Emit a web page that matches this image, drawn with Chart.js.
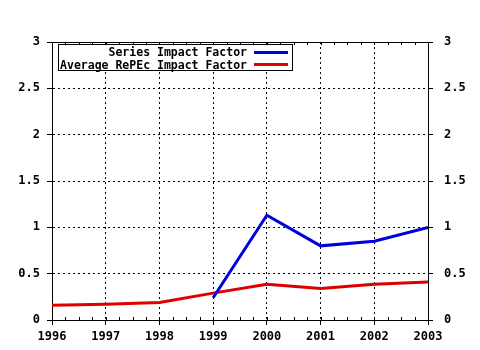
<!DOCTYPE html>
<html>
<head>
<meta charset="utf-8">
<script src="https://cdn.jsdelivr.net/npm/chart.js@4/dist/chart.umd.min.js"></script>
<style>
  body { margin: 0; background: #fff; }
  #wrap { position: relative; width: 480px; height: 350px; }
  #legend {
    position: absolute; left: 58px; top: 44px; width: 233px; height: 25px;
    border: 1px solid #000; background: #fff;
    font: bold 11.5px "DejaVu Sans Mono", monospace; color: #000;
  }
  .legend-item { display: flex; justify-content: flex-end; align-items: center; height: 12.5px; padding-right: 4px; white-space: nowrap; }
  .legend-item:first-child { margin-top: 1px; }
  .legend-color { width: 34px; height: 3px; margin-left: 7px; flex: none; }
</style>
</head>
<body>
<div id="wrap">
  <canvas id="chart" width="480" height="350"></canvas>
  <div id="legend"></div>
</div>
<script>
// Data
const years = [1996, 1997, 1998, 1999, 2000, 2001, 2002, 2003];
const seriesImpact = [null, null, null, 0.24, 1.13, 0.80, 0.85, 1.00];
const averageImpact = [0.16, 0.17, 0.19, 0.29, 0.385, 0.34, 0.385, 0.41];
const seriesLabels = ['Series Impact Factor', 'Average RePEc Impact Factor'];
const seriesColors = ['#0000dd', '#dd0000'];

const FONT = { family: '"DejaVu Sans Mono", monospace', size: 12, weight: 'bold' };

// top border + small minor ticks on top/bottom axes
const frame = {
  id: 'frame',
  afterDraw(chart) {
    const { ctx, chartArea: a, scales } = chart;
    ctx.save();
    ctx.strokeStyle = '#000';
    ctx.lineWidth = 1;
    ctx.beginPath();
    ctx.moveTo(a.left, a.top + 0.5); ctx.lineTo(a.right, a.top + 0.5);
    for (let v = years[0]; v <= years[years.length - 1]; v += 0.25) {
      const x = Math.round(scales.x.getPixelForValue(v)) + 0.5;
      ctx.moveTo(x, a.bottom - 3); ctx.lineTo(x, a.bottom);
      ctx.moveTo(x, a.top); ctx.lineTo(x, a.top + 3);
    }
    ctx.stroke();
    ctx.restore();
  }
};

function buildLegend() {
  const box = document.getElementById('legend');
  seriesLabels.forEach((label, i) => {
    const item = document.createElement('div');
    item.className = 'legend-item';
    item.innerHTML = `<span>${label}</span><div class="legend-color" style="background-color: ${seriesColors[i]}"></div>`;
    box.appendChild(item);
  });
}

new Chart(document.getElementById('chart'), {
  type: 'line',
  data: {
    datasets: [
      {
        label: seriesLabels[0],
        data: years.map((y, i) => ({ x: y, y: seriesImpact[i] })),
        borderColor: seriesColors[0],
        borderWidth: 3,
        pointRadius: 0,
        tension: 0,
        spanGaps: false
      },
      {
        label: seriesLabels[1],
        data: years.map((y, i) => ({ x: y, y: averageImpact[i] })),
        borderColor: seriesColors[1],
        borderWidth: 3,
        pointRadius: 0,
        tension: 0
      }
    ]
  },
  options: {
    responsive: false,
    animation: false,
    layout: { padding: { top: 42, left: 0, right: 0, bottom: 0 } },
    plugins: { legend: { display: false }, tooltip: { enabled: false } },
    scales: {
      x: {
        type: 'linear',
        min: 1996, max: 2003,
        afterFit: s => { s.height = 30; },
        ticks: { stepSize: 1, color: '#000', font: FONT, padding: 5, maxRotation: 0, callback: v => String(v) },
        grid: { color: '#000', tickColor: '#000', tickLength: 5 },
        border: { color: '#000', dash: [2, 3] }
      },
      y: {
        position: 'left',
        min: 0, max: 3,
        afterFit: s => { s.width = 52; },
        ticks: { stepSize: 0.5, color: '#000', font: FONT, padding: 7, callback: v => String(v) },
        grid: { color: '#000', tickColor: '#000', tickLength: 5 },
        border: { color: '#000', dash: [2, 3] }
      },
      y2: {
        position: 'right',
        min: 0, max: 3,
        afterFit: s => { s.width = 52; },
        ticks: { stepSize: 0.5, color: '#000', font: FONT, padding: 11, callback: v => String(v) },
        grid: { drawOnChartArea: false, tickColor: '#000', tickLength: 5 },
        border: { color: '#000' }
      }
    }
  },
  plugins: [frame]
});

buildLegend();
</script>
</body>
</html>
